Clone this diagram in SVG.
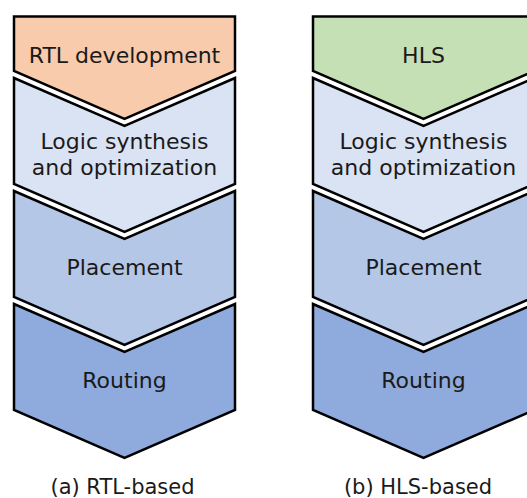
<svg xmlns="http://www.w3.org/2000/svg" width="527" height="498" viewBox="0 0 527 498">
<style>
.s{stroke:#000;stroke-width:2.5;stroke-linejoin:miter}
.o{fill:#F8CBAD}.g{fill:#C5E0B4}.b1{fill:#DAE3F3}.b2{fill:#B4C7E7}.b3{fill:#8FAADC}
text{font-family:"DejaVu Sans","Liberation Sans",sans-serif;font-size:22px;fill:#1a1a1a;text-anchor:middle}
text.c{font-size:21px}
</style>
<rect width="527" height="498" fill="#fff"/>
<g id="rtl-column">
<g id="rtl-development"><polygon class="s o" points="14,16.5 235,16.5 235,71 124.5,119 14,71"/><text x="124.5" y="63">RTL development</text></g>
<g id="rtl-logic-synthesis"><polygon class="s b1" points="14,78 124.5,126 235,78 235,184 124.5,232 14,184"/><text x="124.5" y="149">Logic synthesis</text><text x="124.5" y="175">and optimization</text></g>
<g id="rtl-placement"><polygon class="s b2" points="14,191 124.5,239 235,191 235,297 124.5,345 14,297"/><text x="124.5" y="275">Placement</text></g>
<g id="rtl-routing"><polygon class="s b3" points="14,304 124.5,352 235,304 235,410 124.5,458 14,410"/><text x="124.5" y="388">Routing</text></g>
<text id="caption-a" class="c" x="122.5" y="494">(a) RTL-based</text>
</g>
<g id="hls-column">
<g id="hls"><polygon class="s g" points="313,16.5 534,16.5 534,71 423.5,119 313,71"/><text x="423.5" y="63">HLS</text></g>
<g id="hls-logic-synthesis"><polygon class="s b1" points="313,78 423.5,126 534,78 534,184 423.5,232 313,184"/><text x="423.5" y="149">Logic synthesis</text><text x="423.5" y="175">and optimization</text></g>
<g id="hls-placement"><polygon class="s b2" points="313,191 423.5,239 534,191 534,297 423.5,345 313,297"/><text x="423.5" y="275">Placement</text></g>
<g id="hls-routing"><polygon class="s b3" points="313,304 423.5,352 534,304 534,410 423.5,458 313,410"/><text x="423.5" y="388">Routing</text></g>
<text id="caption-b" class="c" x="418" y="494">(b) HLS-based</text>
</g>
<g id="connectors"></g>
</svg>
